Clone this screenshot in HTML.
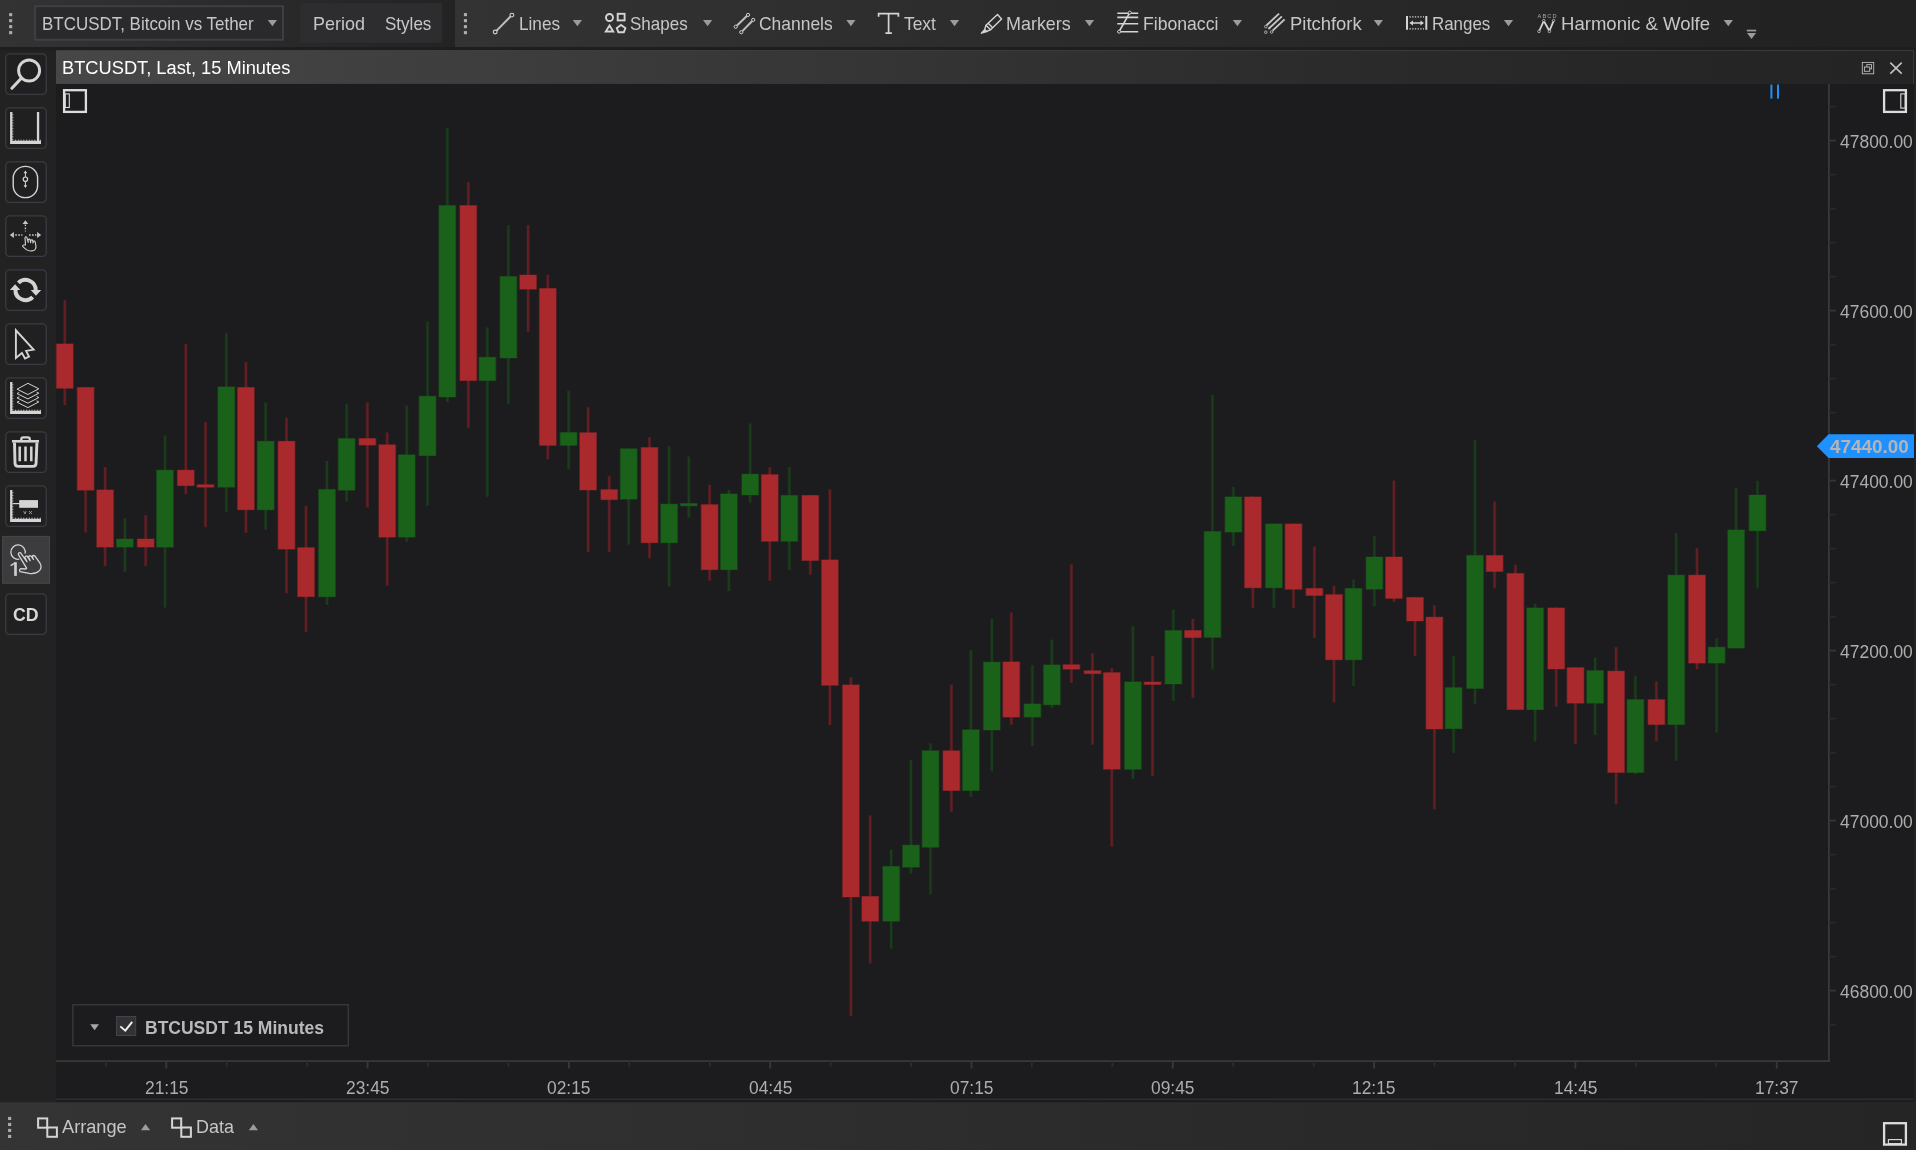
<!DOCTYPE html>
<html><head><meta charset="utf-8"><title>BTCUSDT</title>
<style>
html,body{margin:0;padding:0;background:#222223;}
body{width:1916px;height:1150px;overflow:hidden;position:relative;background:#222223;font-family:"Liberation Sans",sans-serif;}
.t{position:absolute;white-space:pre;font-family:"Liberation Sans",sans-serif;transform-origin:0 0;}
svg{overflow:visible}
</style></head><body>
<svg width="1916" height="1150" viewBox="0 0 1916 1150" style="position:absolute;left:0;top:0"><defs><linearGradient id="g1" x1="0" x2="1" y1="0" y2="0"><stop offset="0" stop-color="#333333"/><stop offset="0.55" stop-color="#2a2a2b"/><stop offset="1" stop-color="#232324"/></linearGradient><linearGradient id="g2" x1="0" x2="1" y1="0" y2="0"><stop offset="0" stop-color="#333333"/><stop offset="0.94" stop-color="#222223"/><stop offset="1" stop-color="#222223"/></linearGradient><linearGradient id="g3" x1="0" x2="1" y1="0" y2="0"><stop offset="0" stop-color="#474747"/><stop offset="0.31" stop-color="#3a3a3a"/><stop offset="0.66" stop-color="#2c2c2d"/><stop offset="0.85" stop-color="#262627"/><stop offset="1" stop-color="#242425"/></linearGradient><linearGradient id="g4" x1="0" x2="1" y1="0" y2="0"><stop offset="0" stop-color="#343434"/><stop offset="1" stop-color="#252526"/></linearGradient></defs><rect x="56" y="84" width="1857.8" height="1018.3" fill="#1c1c1e" /><rect x="0" y="0" width="455" height="47" fill="url(#g1)" /><rect x="455" y="0" width="1461" height="47" fill="url(#g2)" /><rect x="0" y="47" width="1916" height="3.1" fill="#1e1e1f" /><rect x="300.1" y="3.1" width="141.8" height="39.7" fill="#2d2d2f" /><rect x="35.15" y="6.25" width="247.80" height="33.50" fill="#2a2a2c" stroke="#3f3f47" stroke-width="1.9" rx="0"/><rect x="56" y="50.1" width="1857.8" height="33.8" fill="url(#g3)" /><rect x="56" y="50.1" width="1857.8" height="0.8" fill="#3e3e46" /><rect x="1913.0" y="50.1" width="0.8" height="33.8" fill="#3e3e46" /><rect x="56" y="1098.7" width="1857.8" height="0.9" fill="#3a3a42" /><rect x="0" y="1102.3" width="1916" height="47.7" fill="url(#g4)" /><rect x="5.78" y="53.83" width="40.45" height="40.45" fill="#202021" stroke="#3b3b43" stroke-width="1.25" rx="3.7"/><rect x="5.78" y="107.83" width="40.45" height="40.45" fill="#202021" stroke="#3b3b43" stroke-width="1.25" rx="3.7"/><rect x="5.78" y="161.82" width="40.45" height="40.45" fill="#202021" stroke="#3b3b43" stroke-width="1.25" rx="3.7"/><rect x="5.78" y="215.82" width="40.45" height="40.45" fill="#202021" stroke="#3b3b43" stroke-width="1.25" rx="3.7"/><rect x="5.78" y="269.82" width="40.45" height="40.45" fill="#202021" stroke="#3b3b43" stroke-width="1.25" rx="3.7"/><rect x="5.78" y="323.82" width="40.45" height="40.45" fill="#202021" stroke="#3b3b43" stroke-width="1.25" rx="3.7"/><rect x="5.78" y="377.82" width="40.45" height="40.45" fill="#202021" stroke="#3b3b43" stroke-width="1.25" rx="3.7"/><rect x="5.78" y="431.82" width="40.45" height="40.45" fill="#202021" stroke="#3b3b43" stroke-width="1.25" rx="3.7"/><rect x="5.78" y="485.82" width="40.45" height="40.45" fill="#202021" stroke="#3b3b43" stroke-width="1.25" rx="3.7"/><rect x="2.60" y="536.40" width="46.90" height="46.90" fill="#3c3c3e" stroke="#464649" stroke-width="1.0" rx="0"/><rect x="5.78" y="593.83" width="40.45" height="40.45" fill="#202021" stroke="#3b3b43" stroke-width="1.25" rx="3.7"/><rect x="72.85" y="1004.75" width="275.40" height="41.00" fill="none" stroke="#3a3a3b" stroke-width="1.3" rx="0"/><rect x="116.45" y="1016.45" width="19.30" height="19.00" fill="#323236" stroke="#48484e" stroke-width="0.9" rx="0"/></svg>
<svg width="1916" height="1150" viewBox="0 0 1916 1150" style="position:absolute;left:0;top:0" shape-rendering="auto"><rect x="63.10" y="300.1" width="3.40" height="105.2" fill="#621f23" opacity="0.4"/><rect x="63.70" y="300.4" width="2.2" height="104.6" fill="#621f23"/><rect x="83.90" y="386.7" width="3.40" height="145.9" fill="#621f23" opacity="0.4"/><rect x="84.50" y="387.0" width="2.2" height="145.3" fill="#621f23"/><rect x="103.40" y="466.9" width="3.40" height="99.3" fill="#621f23" opacity="0.4"/><rect x="104.00" y="467.2" width="2.2" height="98.7" fill="#621f23"/><rect x="123.20" y="518.0" width="3.40" height="53.9" fill="#193d1b" opacity="0.4"/><rect x="123.80" y="518.3" width="2.2" height="53.3" fill="#193d1b"/><rect x="144.00" y="515.0" width="3.40" height="51.2" fill="#621f23" opacity="0.4"/><rect x="144.60" y="515.3" width="2.2" height="50.6" fill="#621f23"/><rect x="163.30" y="435.3" width="3.40" height="172.5" fill="#193d1b" opacity="0.4"/><rect x="163.90" y="435.6" width="2.2" height="171.9" fill="#193d1b"/><rect x="184.10" y="343.9" width="3.40" height="150.4" fill="#621f23" opacity="0.4"/><rect x="184.70" y="344.2" width="2.2" height="149.8" fill="#621f23"/><rect x="203.80" y="421.8" width="3.40" height="105.5" fill="#621f23" opacity="0.4"/><rect x="204.40" y="422.1" width="2.2" height="104.9" fill="#621f23"/><rect x="224.60" y="333.2" width="3.40" height="178.6" fill="#193d1b" opacity="0.4"/><rect x="225.20" y="333.5" width="2.2" height="178.0" fill="#193d1b"/><rect x="244.20" y="362.0" width="3.40" height="171.1" fill="#621f23" opacity="0.4"/><rect x="244.80" y="362.3" width="2.2" height="170.5" fill="#621f23"/><rect x="264.00" y="402.2" width="3.40" height="127.9" fill="#193d1b" opacity="0.4"/><rect x="264.60" y="402.5" width="2.2" height="127.3" fill="#193d1b"/><rect x="284.80" y="417.3" width="3.40" height="175.9" fill="#621f23" opacity="0.4"/><rect x="285.40" y="417.6" width="2.2" height="175.3" fill="#621f23"/><rect x="304.30" y="505.7" width="3.40" height="126.4" fill="#621f23" opacity="0.4"/><rect x="304.90" y="506.0" width="2.2" height="125.8" fill="#621f23"/><rect x="325.30" y="460.6" width="3.40" height="144.4" fill="#193d1b" opacity="0.4"/><rect x="325.90" y="460.9" width="2.2" height="143.8" fill="#193d1b"/><rect x="344.90" y="403.7" width="3.40" height="98.1" fill="#193d1b" opacity="0.4"/><rect x="345.50" y="404.0" width="2.2" height="97.5" fill="#193d1b"/><rect x="365.70" y="402.2" width="3.40" height="105.4" fill="#621f23" opacity="0.4"/><rect x="366.30" y="402.5" width="2.2" height="104.8" fill="#621f23"/><rect x="385.50" y="432.3" width="3.40" height="153.4" fill="#621f23" opacity="0.4"/><rect x="386.10" y="432.6" width="2.2" height="152.8" fill="#621f23"/><rect x="405.00" y="405.3" width="3.40" height="136.6" fill="#193d1b" opacity="0.4"/><rect x="405.60" y="405.6" width="2.2" height="136.0" fill="#193d1b"/><rect x="425.80" y="321.4" width="3.40" height="184.7" fill="#193d1b" opacity="0.4"/><rect x="426.40" y="321.7" width="2.2" height="184.1" fill="#193d1b"/><rect x="445.60" y="127.7" width="3.40" height="274.6" fill="#193d1b" opacity="0.4"/><rect x="446.20" y="128.0" width="2.2" height="274.0" fill="#193d1b"/><rect x="466.60" y="181.9" width="3.40" height="246.0" fill="#621f23" opacity="0.4"/><rect x="467.20" y="182.2" width="2.2" height="245.4" fill="#621f23"/><rect x="485.70" y="327.2" width="3.40" height="169.8" fill="#193d1b" opacity="0.4"/><rect x="486.30" y="327.5" width="2.2" height="169.2" fill="#193d1b"/><rect x="506.70" y="225.0" width="3.40" height="179.1" fill="#193d1b" opacity="0.4"/><rect x="507.30" y="225.3" width="2.2" height="178.5" fill="#193d1b"/><rect x="526.40" y="225.0" width="3.40" height="106.8" fill="#621f23" opacity="0.4"/><rect x="527.00" y="225.3" width="2.2" height="106.2" fill="#621f23"/><rect x="546.10" y="274.7" width="3.40" height="184.7" fill="#621f23" opacity="0.4"/><rect x="546.70" y="275.0" width="2.2" height="184.1" fill="#621f23"/><rect x="566.90" y="390.5" width="3.40" height="79.0" fill="#193d1b" opacity="0.4"/><rect x="567.50" y="390.8" width="2.2" height="78.4" fill="#193d1b"/><rect x="586.40" y="407.0" width="3.40" height="145.3" fill="#621f23" opacity="0.4"/><rect x="587.00" y="407.3" width="2.2" height="144.7" fill="#621f23"/><rect x="607.50" y="475.9" width="3.40" height="76.4" fill="#621f23" opacity="0.4"/><rect x="608.10" y="476.2" width="2.2" height="75.8" fill="#621f23"/><rect x="627.00" y="448.1" width="3.40" height="96.6" fill="#193d1b" opacity="0.4"/><rect x="627.60" y="448.4" width="2.2" height="96.0" fill="#193d1b"/><rect x="647.80" y="437.1" width="3.40" height="121.2" fill="#621f23" opacity="0.4"/><rect x="648.40" y="437.4" width="2.2" height="120.6" fill="#621f23"/><rect x="667.40" y="445.8" width="3.40" height="140.8" fill="#193d1b" opacity="0.4"/><rect x="668.00" y="446.1" width="2.2" height="140.2" fill="#193d1b"/><rect x="687.10" y="456.3" width="3.40" height="61.5" fill="#193d1b" opacity="0.4"/><rect x="687.70" y="456.6" width="2.2" height="60.9" fill="#193d1b"/><rect x="707.90" y="484.7" width="3.40" height="96.2" fill="#621f23" opacity="0.4"/><rect x="708.50" y="485.0" width="2.2" height="95.6" fill="#621f23"/><rect x="727.20" y="489.7" width="3.40" height="101.5" fill="#193d1b" opacity="0.4"/><rect x="727.80" y="490.0" width="2.2" height="100.9" fill="#193d1b"/><rect x="748.50" y="423.3" width="3.40" height="79.5" fill="#193d1b" opacity="0.4"/><rect x="749.10" y="423.6" width="2.2" height="78.9" fill="#193d1b"/><rect x="768.10" y="466.9" width="3.40" height="114.0" fill="#621f23" opacity="0.4"/><rect x="768.70" y="467.2" width="2.2" height="113.4" fill="#621f23"/><rect x="787.60" y="466.9" width="3.40" height="103.4" fill="#193d1b" opacity="0.4"/><rect x="788.20" y="467.2" width="2.2" height="102.8" fill="#193d1b"/><rect x="808.60" y="494.7" width="3.40" height="80.2" fill="#621f23" opacity="0.4"/><rect x="809.20" y="495.0" width="2.2" height="79.6" fill="#621f23"/><rect x="828.20" y="489.2" width="3.40" height="236.0" fill="#621f23" opacity="0.4"/><rect x="828.80" y="489.5" width="2.2" height="235.4" fill="#621f23"/><rect x="849.20" y="677.0" width="3.40" height="339.3" fill="#621f23" opacity="0.4"/><rect x="849.80" y="677.3" width="2.2" height="338.7" fill="#621f23"/><rect x="868.50" y="815.3" width="3.40" height="148.4" fill="#621f23" opacity="0.4"/><rect x="869.10" y="815.6" width="2.2" height="147.8" fill="#621f23"/><rect x="889.50" y="849.4" width="3.40" height="99.3" fill="#193d1b" opacity="0.4"/><rect x="890.10" y="849.7" width="2.2" height="98.7" fill="#193d1b"/><rect x="909.30" y="759.7" width="3.40" height="113.8" fill="#193d1b" opacity="0.4"/><rect x="909.90" y="760.0" width="2.2" height="113.2" fill="#193d1b"/><rect x="928.80" y="743.1" width="3.40" height="151.7" fill="#193d1b" opacity="0.4"/><rect x="929.40" y="743.4" width="2.2" height="151.1" fill="#193d1b"/><rect x="949.70" y="684.5" width="3.40" height="127.6" fill="#621f23" opacity="0.4"/><rect x="950.30" y="684.8" width="2.2" height="127.0" fill="#621f23"/><rect x="969.20" y="649.9" width="3.40" height="147.2" fill="#193d1b" opacity="0.4"/><rect x="969.80" y="650.2" width="2.2" height="146.6" fill="#193d1b"/><rect x="990.10" y="618.6" width="3.40" height="152.9" fill="#193d1b" opacity="0.4"/><rect x="990.70" y="618.9" width="2.2" height="152.3" fill="#193d1b"/><rect x="1009.60" y="612.3" width="3.40" height="112.6" fill="#621f23" opacity="0.4"/><rect x="1010.20" y="612.6" width="2.2" height="112.0" fill="#621f23"/><rect x="1030.70" y="664.9" width="3.40" height="81.3" fill="#193d1b" opacity="0.4"/><rect x="1031.30" y="665.2" width="2.2" height="80.7" fill="#193d1b"/><rect x="1050.20" y="639.4" width="3.40" height="68.7" fill="#193d1b" opacity="0.4"/><rect x="1050.80" y="639.7" width="2.2" height="68.1" fill="#193d1b"/><rect x="1069.70" y="564.2" width="3.40" height="118.8" fill="#621f23" opacity="0.4"/><rect x="1070.30" y="564.5" width="2.2" height="118.2" fill="#621f23"/><rect x="1090.80" y="652.9" width="3.40" height="92.0" fill="#621f23" opacity="0.4"/><rect x="1091.40" y="653.2" width="2.2" height="91.4" fill="#621f23"/><rect x="1110.10" y="667.9" width="3.40" height="178.7" fill="#621f23" opacity="0.4"/><rect x="1110.70" y="668.2" width="2.2" height="178.1" fill="#621f23"/><rect x="1131.20" y="626.1" width="3.40" height="152.9" fill="#193d1b" opacity="0.4"/><rect x="1131.80" y="626.4" width="2.2" height="152.3" fill="#193d1b"/><rect x="1150.80" y="655.6" width="3.40" height="120.6" fill="#621f23" opacity="0.4"/><rect x="1151.40" y="655.9" width="2.2" height="120.0" fill="#621f23"/><rect x="1171.70" y="609.3" width="3.40" height="91.8" fill="#193d1b" opacity="0.4"/><rect x="1172.30" y="609.6" width="2.2" height="91.2" fill="#193d1b"/><rect x="1191.20" y="618.6" width="3.40" height="79.5" fill="#621f23" opacity="0.4"/><rect x="1191.80" y="618.9" width="2.2" height="78.9" fill="#621f23"/><rect x="1210.80" y="394.7" width="3.40" height="275.1" fill="#193d1b" opacity="0.4"/><rect x="1211.40" y="395.0" width="2.2" height="274.5" fill="#193d1b"/><rect x="1231.70" y="486.7" width="3.40" height="59.7" fill="#193d1b" opacity="0.4"/><rect x="1232.30" y="487.0" width="2.2" height="59.1" fill="#193d1b"/><rect x="1251.20" y="496.2" width="3.40" height="111.9" fill="#621f23" opacity="0.4"/><rect x="1251.80" y="496.5" width="2.2" height="111.3" fill="#621f23"/><rect x="1272.20" y="523.2" width="3.40" height="84.9" fill="#193d1b" opacity="0.4"/><rect x="1272.80" y="523.5" width="2.2" height="84.3" fill="#193d1b"/><rect x="1291.80" y="523.2" width="3.40" height="84.9" fill="#621f23" opacity="0.4"/><rect x="1292.40" y="523.5" width="2.2" height="84.3" fill="#621f23"/><rect x="1312.70" y="546.3" width="3.40" height="91.8" fill="#621f23" opacity="0.4"/><rect x="1313.30" y="546.6" width="2.2" height="91.2" fill="#621f23"/><rect x="1332.30" y="585.5" width="3.40" height="117.1" fill="#621f23" opacity="0.4"/><rect x="1332.90" y="585.8" width="2.2" height="116.5" fill="#621f23"/><rect x="1351.80" y="579.3" width="3.40" height="106.8" fill="#193d1b" opacity="0.4"/><rect x="1352.40" y="579.6" width="2.2" height="106.2" fill="#193d1b"/><rect x="1372.70" y="536.0" width="3.40" height="70.3" fill="#193d1b" opacity="0.4"/><rect x="1373.30" y="536.3" width="2.2" height="69.7" fill="#193d1b"/><rect x="1392.20" y="480.4" width="3.40" height="121.4" fill="#621f23" opacity="0.4"/><rect x="1392.80" y="480.7" width="2.2" height="120.8" fill="#621f23"/><rect x="1413.30" y="596.7" width="3.40" height="59.4" fill="#621f23" opacity="0.4"/><rect x="1413.90" y="597.0" width="2.2" height="58.8" fill="#621f23"/><rect x="1432.70" y="605.0" width="3.40" height="204.5" fill="#621f23" opacity="0.4"/><rect x="1433.30" y="605.3" width="2.2" height="203.9" fill="#621f23"/><rect x="1451.90" y="656.1" width="3.40" height="97.1" fill="#193d1b" opacity="0.4"/><rect x="1452.50" y="656.4" width="2.2" height="96.5" fill="#193d1b"/><rect x="1473.30" y="439.7" width="3.40" height="264.2" fill="#193d1b" opacity="0.4"/><rect x="1473.90" y="440.0" width="2.2" height="263.6" fill="#193d1b"/><rect x="1492.90" y="501.4" width="3.40" height="86.9" fill="#621f23" opacity="0.4"/><rect x="1493.50" y="501.7" width="2.2" height="86.3" fill="#621f23"/><rect x="1513.70" y="564.7" width="3.40" height="145.2" fill="#621f23" opacity="0.4"/><rect x="1514.30" y="565.0" width="2.2" height="144.6" fill="#621f23"/><rect x="1533.40" y="603.5" width="3.40" height="138.0" fill="#193d1b" opacity="0.4"/><rect x="1534.00" y="603.8" width="2.2" height="137.4" fill="#193d1b"/><rect x="1554.50" y="607.2" width="3.40" height="99.7" fill="#621f23" opacity="0.4"/><rect x="1555.10" y="607.5" width="2.2" height="99.1" fill="#621f23"/><rect x="1573.80" y="667.0" width="3.40" height="77.5" fill="#621f23" opacity="0.4"/><rect x="1574.40" y="667.3" width="2.2" height="76.9" fill="#621f23"/><rect x="1593.40" y="657.4" width="3.40" height="77.8" fill="#193d1b" opacity="0.4"/><rect x="1594.00" y="657.7" width="2.2" height="77.2" fill="#193d1b"/><rect x="1614.40" y="647.0" width="3.40" height="157.6" fill="#621f23" opacity="0.4"/><rect x="1615.00" y="647.3" width="2.2" height="157.0" fill="#621f23"/><rect x="1633.70" y="675.5" width="3.40" height="99.0" fill="#193d1b" opacity="0.4"/><rect x="1634.30" y="675.8" width="2.2" height="98.4" fill="#193d1b"/><rect x="1654.70" y="681.2" width="3.40" height="60.3" fill="#621f23" opacity="0.4"/><rect x="1655.30" y="681.5" width="2.2" height="59.7" fill="#621f23"/><rect x="1674.50" y="532.9" width="3.40" height="228.3" fill="#193d1b" opacity="0.4"/><rect x="1675.10" y="533.2" width="2.2" height="227.7" fill="#193d1b"/><rect x="1695.30" y="548.0" width="3.40" height="121.4" fill="#621f23" opacity="0.4"/><rect x="1695.90" y="548.3" width="2.2" height="120.8" fill="#621f23"/><rect x="1714.90" y="638.1" width="3.40" height="94.6" fill="#193d1b" opacity="0.4"/><rect x="1715.50" y="638.4" width="2.2" height="94.0" fill="#193d1b"/><rect x="1734.40" y="487.8" width="3.40" height="160.6" fill="#193d1b" opacity="0.4"/><rect x="1735.00" y="488.1" width="2.2" height="160.0" fill="#193d1b"/><rect x="1755.80" y="480.6" width="3.40" height="107.9" fill="#193d1b" opacity="0.4"/><rect x="1756.40" y="480.9" width="2.2" height="107.3" fill="#193d1b"/><rect x="55.80" y="343.4" width="18.00" height="45.4" fill="#aa292c" opacity="0.4"/><rect x="56.55" y="343.9" width="16.5" height="44.4" fill="#aa292c"/><rect x="76.60" y="386.9" width="18.00" height="103.8" fill="#aa292c" opacity="0.4"/><rect x="77.35" y="387.4" width="16.5" height="102.8" fill="#aa292c"/><rect x="96.10" y="489.4" width="18.00" height="58.2" fill="#aa292c" opacity="0.4"/><rect x="96.85" y="489.9" width="16.5" height="57.2" fill="#aa292c"/><rect x="115.90" y="538.5" width="18.00" height="9.1" fill="#1a611a" opacity="0.4"/><rect x="116.65" y="539.0" width="16.5" height="8.1" fill="#1a611a"/><rect x="136.70" y="538.5" width="18.00" height="9.1" fill="#aa292c" opacity="0.4"/><rect x="137.45" y="539.0" width="16.5" height="8.1" fill="#aa292c"/><rect x="156.00" y="469.6" width="18.00" height="78.1" fill="#1a611a" opacity="0.4"/><rect x="156.75" y="470.1" width="16.5" height="77.1" fill="#1a611a"/><rect x="176.80" y="469.6" width="18.00" height="16.6" fill="#aa292c" opacity="0.4"/><rect x="177.55" y="470.1" width="16.5" height="15.6" fill="#aa292c"/><rect x="196.50" y="484.2" width="18.00" height="3.5" fill="#aa292c" opacity="0.4"/><rect x="197.25" y="484.7" width="16.5" height="2.5" fill="#aa292c"/><rect x="217.30" y="386.4" width="18.00" height="101.3" fill="#1a611a" opacity="0.4"/><rect x="218.05" y="386.9" width="16.5" height="100.3" fill="#1a611a"/><rect x="236.90" y="386.9" width="18.00" height="123.4" fill="#aa292c" opacity="0.4"/><rect x="237.65" y="387.4" width="16.5" height="122.4" fill="#aa292c"/><rect x="256.70" y="440.8" width="18.00" height="69.6" fill="#1a611a" opacity="0.4"/><rect x="257.45" y="441.2" width="16.5" height="68.6" fill="#1a611a"/><rect x="277.50" y="440.8" width="18.00" height="108.9" fill="#aa292c" opacity="0.4"/><rect x="278.25" y="441.2" width="16.5" height="107.9" fill="#aa292c"/><rect x="297.00" y="547.1" width="18.00" height="50.1" fill="#aa292c" opacity="0.4"/><rect x="297.75" y="547.6" width="16.5" height="49.1" fill="#aa292c"/><rect x="318.00" y="488.9" width="18.00" height="108.4" fill="#1a611a" opacity="0.4"/><rect x="318.75" y="489.4" width="16.5" height="107.4" fill="#1a611a"/><rect x="337.60" y="438.0" width="18.00" height="52.7" fill="#1a611a" opacity="0.4"/><rect x="338.35" y="438.5" width="16.5" height="51.7" fill="#1a611a"/><rect x="358.40" y="438.0" width="18.00" height="7.6" fill="#aa292c" opacity="0.4"/><rect x="359.15" y="438.5" width="16.5" height="6.6" fill="#aa292c"/><rect x="378.20" y="444.2" width="18.00" height="93.4" fill="#aa292c" opacity="0.4"/><rect x="378.95" y="444.8" width="16.5" height="92.4" fill="#aa292c"/><rect x="397.70" y="454.2" width="18.00" height="83.4" fill="#1a611a" opacity="0.4"/><rect x="398.45" y="454.8" width="16.5" height="82.4" fill="#1a611a"/><rect x="418.50" y="395.7" width="18.00" height="60.5" fill="#1a611a" opacity="0.4"/><rect x="419.25" y="396.2" width="16.5" height="59.5" fill="#1a611a"/><rect x="438.30" y="205.0" width="18.00" height="192.5" fill="#1a611a" opacity="0.4"/><rect x="439.05" y="205.5" width="16.5" height="191.5" fill="#1a611a"/><rect x="459.30" y="205.0" width="18.00" height="176.1" fill="#aa292c" opacity="0.4"/><rect x="460.05" y="205.5" width="16.5" height="175.1" fill="#aa292c"/><rect x="478.40" y="356.7" width="18.00" height="24.4" fill="#1a611a" opacity="0.4"/><rect x="479.15" y="357.2" width="16.5" height="23.4" fill="#1a611a"/><rect x="499.40" y="276.0" width="18.00" height="82.5" fill="#1a611a" opacity="0.4"/><rect x="500.15" y="276.5" width="16.5" height="81.5" fill="#1a611a"/><rect x="519.10" y="274.5" width="18.00" height="15.2" fill="#aa292c" opacity="0.4"/><rect x="519.85" y="275.0" width="16.5" height="14.2" fill="#aa292c"/><rect x="538.80" y="287.9" width="18.00" height="158.0" fill="#aa292c" opacity="0.4"/><rect x="539.55" y="288.4" width="16.5" height="157.0" fill="#aa292c"/><rect x="559.60" y="432.0" width="18.00" height="13.9" fill="#1a611a" opacity="0.4"/><rect x="560.35" y="432.5" width="16.5" height="12.9" fill="#1a611a"/><rect x="579.10" y="432.2" width="18.00" height="58.3" fill="#aa292c" opacity="0.4"/><rect x="579.85" y="432.7" width="16.5" height="57.3" fill="#aa292c"/><rect x="600.20" y="489.1" width="18.00" height="11.1" fill="#aa292c" opacity="0.4"/><rect x="600.95" y="489.6" width="16.5" height="10.1" fill="#aa292c"/><rect x="619.70" y="448.2" width="18.00" height="51.4" fill="#1a611a" opacity="0.4"/><rect x="620.45" y="448.8" width="16.5" height="50.4" fill="#1a611a"/><rect x="640.50" y="447.0" width="18.00" height="96.3" fill="#aa292c" opacity="0.4"/><rect x="641.25" y="447.5" width="16.5" height="95.3" fill="#aa292c"/><rect x="660.10" y="503.6" width="18.00" height="39.7" fill="#1a611a" opacity="0.4"/><rect x="660.85" y="504.1" width="16.5" height="38.7" fill="#1a611a"/><rect x="679.80" y="503.0" width="18.00" height="3.4" fill="#1a611a" opacity="0.4"/><rect x="680.55" y="503.5" width="16.5" height="2.4" fill="#1a611a"/><rect x="700.60" y="504.1" width="18.00" height="66.1" fill="#aa292c" opacity="0.4"/><rect x="701.35" y="504.6" width="16.5" height="65.1" fill="#aa292c"/><rect x="719.90" y="493.4" width="18.00" height="76.8" fill="#1a611a" opacity="0.4"/><rect x="720.65" y="493.9" width="16.5" height="75.8" fill="#1a611a"/><rect x="741.20" y="473.6" width="18.00" height="21.9" fill="#1a611a" opacity="0.4"/><rect x="741.95" y="474.1" width="16.5" height="20.9" fill="#1a611a"/><rect x="760.80" y="474.1" width="18.00" height="67.7" fill="#aa292c" opacity="0.4"/><rect x="761.55" y="474.6" width="16.5" height="66.7" fill="#aa292c"/><rect x="780.30" y="494.9" width="18.00" height="46.9" fill="#1a611a" opacity="0.4"/><rect x="781.05" y="495.4" width="16.5" height="45.9" fill="#1a611a"/><rect x="801.30" y="494.9" width="18.00" height="66.1" fill="#aa292c" opacity="0.4"/><rect x="802.05" y="495.4" width="16.5" height="65.1" fill="#aa292c"/><rect x="820.90" y="559.4" width="18.00" height="126.4" fill="#aa292c" opacity="0.4"/><rect x="821.65" y="559.9" width="16.5" height="125.4" fill="#aa292c"/><rect x="841.90" y="684.4" width="18.00" height="213.1" fill="#aa292c" opacity="0.4"/><rect x="842.65" y="684.9" width="16.5" height="212.1" fill="#aa292c"/><rect x="861.20" y="895.9" width="18.00" height="25.8" fill="#aa292c" opacity="0.4"/><rect x="861.95" y="896.4" width="16.5" height="24.8" fill="#aa292c"/><rect x="882.20" y="865.9" width="18.00" height="55.8" fill="#1a611a" opacity="0.4"/><rect x="882.95" y="866.4" width="16.5" height="54.8" fill="#1a611a"/><rect x="902.00" y="844.6" width="18.00" height="23.1" fill="#1a611a" opacity="0.4"/><rect x="902.75" y="845.1" width="16.5" height="22.1" fill="#1a611a"/><rect x="921.50" y="750.2" width="18.00" height="97.5" fill="#1a611a" opacity="0.4"/><rect x="922.25" y="750.8" width="16.5" height="96.5" fill="#1a611a"/><rect x="942.40" y="750.2" width="18.00" height="40.8" fill="#aa292c" opacity="0.4"/><rect x="943.15" y="750.8" width="16.5" height="39.8" fill="#aa292c"/><rect x="961.90" y="729.2" width="18.00" height="61.8" fill="#1a611a" opacity="0.4"/><rect x="962.65" y="729.8" width="16.5" height="60.8" fill="#1a611a"/><rect x="982.80" y="661.6" width="18.00" height="68.9" fill="#1a611a" opacity="0.4"/><rect x="983.55" y="662.1" width="16.5" height="67.9" fill="#1a611a"/><rect x="1002.30" y="661.4" width="18.00" height="56.2" fill="#aa292c" opacity="0.4"/><rect x="1003.05" y="661.9" width="16.5" height="55.2" fill="#aa292c"/><rect x="1023.40" y="703.4" width="18.00" height="14.2" fill="#1a611a" opacity="0.4"/><rect x="1024.15" y="703.9" width="16.5" height="13.2" fill="#1a611a"/><rect x="1042.90" y="664.4" width="18.00" height="40.9" fill="#1a611a" opacity="0.4"/><rect x="1043.65" y="664.9" width="16.5" height="39.9" fill="#1a611a"/><rect x="1062.40" y="664.2" width="18.00" height="5.5" fill="#aa292c" opacity="0.4"/><rect x="1063.15" y="664.7" width="16.5" height="4.5" fill="#aa292c"/><rect x="1083.50" y="670.2" width="18.00" height="4.0" fill="#aa292c" opacity="0.4"/><rect x="1084.25" y="670.7" width="16.5" height="3.0" fill="#aa292c"/><rect x="1102.80" y="672.1" width="18.00" height="97.6" fill="#aa292c" opacity="0.4"/><rect x="1103.55" y="672.6" width="16.5" height="96.6" fill="#aa292c"/><rect x="1123.90" y="681.4" width="18.00" height="88.4" fill="#1a611a" opacity="0.4"/><rect x="1124.65" y="681.9" width="16.5" height="87.4" fill="#1a611a"/><rect x="1143.50" y="681.5" width="18.00" height="3.5" fill="#aa292c" opacity="0.4"/><rect x="1144.25" y="682.0" width="16.5" height="2.5" fill="#aa292c"/><rect x="1164.40" y="630.0" width="18.00" height="54.5" fill="#1a611a" opacity="0.4"/><rect x="1165.15" y="630.5" width="16.5" height="53.5" fill="#1a611a"/><rect x="1183.90" y="630.0" width="18.00" height="8.1" fill="#aa292c" opacity="0.4"/><rect x="1184.65" y="630.5" width="16.5" height="7.1" fill="#aa292c"/><rect x="1203.50" y="531.0" width="18.00" height="106.9" fill="#1a611a" opacity="0.4"/><rect x="1204.25" y="531.5" width="16.5" height="105.9" fill="#1a611a"/><rect x="1224.40" y="496.4" width="18.00" height="36.2" fill="#1a611a" opacity="0.4"/><rect x="1225.15" y="496.9" width="16.5" height="35.2" fill="#1a611a"/><rect x="1243.90" y="496.4" width="18.00" height="91.9" fill="#aa292c" opacity="0.4"/><rect x="1244.65" y="496.9" width="16.5" height="90.9" fill="#aa292c"/><rect x="1264.90" y="523.4" width="18.00" height="64.9" fill="#1a611a" opacity="0.4"/><rect x="1265.65" y="523.9" width="16.5" height="63.9" fill="#1a611a"/><rect x="1284.50" y="523.4" width="18.00" height="66.4" fill="#aa292c" opacity="0.4"/><rect x="1285.25" y="523.9" width="16.5" height="65.4" fill="#aa292c"/><rect x="1305.40" y="587.9" width="18.00" height="8.1" fill="#aa292c" opacity="0.4"/><rect x="1306.15" y="588.4" width="16.5" height="7.1" fill="#aa292c"/><rect x="1325.00" y="594.1" width="18.00" height="66.2" fill="#aa292c" opacity="0.4"/><rect x="1325.75" y="594.6" width="16.5" height="65.2" fill="#aa292c"/><rect x="1344.50" y="587.9" width="18.00" height="72.4" fill="#1a611a" opacity="0.4"/><rect x="1345.25" y="588.4" width="16.5" height="71.4" fill="#1a611a"/><rect x="1365.40" y="556.5" width="18.00" height="33.2" fill="#1a611a" opacity="0.4"/><rect x="1366.15" y="557.0" width="16.5" height="32.2" fill="#1a611a"/><rect x="1384.90" y="556.5" width="18.00" height="42.4" fill="#aa292c" opacity="0.4"/><rect x="1385.65" y="557.0" width="16.5" height="41.4" fill="#aa292c"/><rect x="1406.00" y="596.9" width="18.00" height="24.6" fill="#aa292c" opacity="0.4"/><rect x="1406.75" y="597.4" width="16.5" height="23.6" fill="#aa292c"/><rect x="1425.40" y="616.6" width="18.00" height="112.9" fill="#aa292c" opacity="0.4"/><rect x="1426.15" y="617.1" width="16.5" height="111.9" fill="#aa292c"/><rect x="1444.60" y="687.1" width="18.00" height="42.1" fill="#1a611a" opacity="0.4"/><rect x="1445.35" y="687.6" width="16.5" height="41.1" fill="#1a611a"/><rect x="1466.00" y="554.9" width="18.00" height="134.1" fill="#1a611a" opacity="0.4"/><rect x="1466.75" y="555.4" width="16.5" height="133.1" fill="#1a611a"/><rect x="1485.60" y="554.9" width="18.00" height="17.1" fill="#aa292c" opacity="0.4"/><rect x="1486.35" y="555.4" width="16.5" height="16.1" fill="#aa292c"/><rect x="1506.40" y="572.9" width="18.00" height="137.2" fill="#aa292c" opacity="0.4"/><rect x="1507.15" y="573.4" width="16.5" height="136.2" fill="#aa292c"/><rect x="1526.10" y="607.4" width="18.00" height="102.8" fill="#1a611a" opacity="0.4"/><rect x="1526.85" y="607.9" width="16.5" height="101.8" fill="#1a611a"/><rect x="1547.20" y="607.4" width="18.00" height="62.1" fill="#aa292c" opacity="0.4"/><rect x="1547.95" y="607.9" width="16.5" height="61.1" fill="#aa292c"/><rect x="1566.50" y="667.1" width="18.00" height="36.6" fill="#aa292c" opacity="0.4"/><rect x="1567.25" y="667.6" width="16.5" height="35.6" fill="#aa292c"/><rect x="1586.10" y="670.1" width="18.00" height="33.6" fill="#1a611a" opacity="0.4"/><rect x="1586.85" y="670.6" width="16.5" height="32.6" fill="#1a611a"/><rect x="1607.10" y="670.6" width="18.00" height="102.4" fill="#aa292c" opacity="0.4"/><rect x="1607.85" y="671.1" width="16.5" height="101.4" fill="#aa292c"/><rect x="1626.40" y="699.1" width="18.00" height="73.9" fill="#1a611a" opacity="0.4"/><rect x="1627.15" y="699.6" width="16.5" height="72.9" fill="#1a611a"/><rect x="1647.40" y="699.1" width="18.00" height="26.0" fill="#aa292c" opacity="0.4"/><rect x="1648.15" y="699.6" width="16.5" height="25.0" fill="#aa292c"/><rect x="1667.20" y="574.6" width="18.00" height="150.5" fill="#1a611a" opacity="0.4"/><rect x="1667.95" y="575.1" width="16.5" height="149.5" fill="#1a611a"/><rect x="1688.00" y="574.6" width="18.00" height="89.0" fill="#aa292c" opacity="0.4"/><rect x="1688.75" y="575.1" width="16.5" height="88.0" fill="#aa292c"/><rect x="1707.60" y="646.6" width="18.00" height="17.0" fill="#1a611a" opacity="0.4"/><rect x="1708.35" y="647.1" width="16.5" height="16.0" fill="#1a611a"/><rect x="1727.10" y="529.4" width="18.00" height="119.2" fill="#1a611a" opacity="0.4"/><rect x="1727.85" y="529.9" width="16.5" height="118.2" fill="#1a611a"/><rect x="1748.50" y="494.5" width="18.00" height="36.8" fill="#1a611a" opacity="0.4"/><rect x="1749.25" y="495.0" width="16.5" height="35.8" fill="#1a611a"/><rect x="56" y="1060.2" width="1773.6" height="1.8" fill="#38383a"/><rect x="1828" y="84" width="1.8" height="978" fill="#38383a"/><rect x="165.4" y="1061" width="1.8" height="7.5" fill="#38383a"/><rect x="105.0" y="1061" width="1.8" height="6" fill="#2c2c2f"/><rect x="225.8" y="1061" width="1.8" height="6" fill="#2c2c2f"/><rect x="366.7" y="1061" width="1.8" height="7.5" fill="#38383a"/><rect x="306.3" y="1061" width="1.8" height="6" fill="#2c2c2f"/><rect x="427.1" y="1061" width="1.8" height="6" fill="#2c2c2f"/><rect x="568.0" y="1061" width="1.8" height="7.5" fill="#38383a"/><rect x="507.6" y="1061" width="1.8" height="6" fill="#2c2c2f"/><rect x="628.4" y="1061" width="1.8" height="6" fill="#2c2c2f"/><rect x="769.3" y="1061" width="1.8" height="7.5" fill="#38383a"/><rect x="708.9" y="1061" width="1.8" height="6" fill="#2c2c2f"/><rect x="829.7" y="1061" width="1.8" height="6" fill="#2c2c2f"/><rect x="970.6" y="1061" width="1.8" height="7.5" fill="#38383a"/><rect x="910.2" y="1061" width="1.8" height="6" fill="#2c2c2f"/><rect x="1031.0" y="1061" width="1.8" height="6" fill="#2c2c2f"/><rect x="1171.9" y="1061" width="1.8" height="7.5" fill="#38383a"/><rect x="1111.5" y="1061" width="1.8" height="6" fill="#2c2c2f"/><rect x="1232.3" y="1061" width="1.8" height="6" fill="#2c2c2f"/><rect x="1373.2" y="1061" width="1.8" height="7.5" fill="#38383a"/><rect x="1312.8" y="1061" width="1.8" height="6" fill="#2c2c2f"/><rect x="1433.6" y="1061" width="1.8" height="6" fill="#2c2c2f"/><rect x="1574.5" y="1061" width="1.8" height="7.5" fill="#38383a"/><rect x="1514.1" y="1061" width="1.8" height="6" fill="#2c2c2f"/><rect x="1634.9" y="1061" width="1.8" height="6" fill="#2c2c2f"/><rect x="1775.8" y="1061" width="1.8" height="7.5" fill="#38383a"/><rect x="1715.4" y="1061" width="1.8" height="6" fill="#2c2c2f"/><rect x="1829" y="105.7" width="6.5" height="1.8" fill="#2a2a2d"/><rect x="1829" y="139.7" width="6.9" height="1.8" fill="#33353a"/><rect x="1829" y="173.7" width="6.5" height="1.8" fill="#2a2a2d"/><rect x="1829" y="207.7" width="6.5" height="1.8" fill="#2a2a2d"/><rect x="1829" y="241.7" width="6.5" height="1.8" fill="#2a2a2d"/><rect x="1829" y="275.7" width="6.5" height="1.8" fill="#2a2a2d"/><rect x="1829" y="309.7" width="6.9" height="1.8" fill="#33353a"/><rect x="1829" y="343.7" width="6.5" height="1.8" fill="#2a2a2d"/><rect x="1829" y="377.7" width="6.5" height="1.8" fill="#2a2a2d"/><rect x="1829" y="411.7" width="6.5" height="1.8" fill="#2a2a2d"/><rect x="1829" y="445.7" width="6.5" height="1.8" fill="#2a2a2d"/><rect x="1829" y="479.7" width="6.9" height="1.8" fill="#33353a"/><rect x="1829" y="513.7" width="6.5" height="1.8" fill="#2a2a2d"/><rect x="1829" y="547.7" width="6.5" height="1.8" fill="#2a2a2d"/><rect x="1829" y="581.7" width="6.5" height="1.8" fill="#2a2a2d"/><rect x="1829" y="615.7" width="6.5" height="1.8" fill="#2a2a2d"/><rect x="1829" y="649.7" width="6.9" height="1.8" fill="#33353a"/><rect x="1829" y="683.7" width="6.5" height="1.8" fill="#2a2a2d"/><rect x="1829" y="717.7" width="6.5" height="1.8" fill="#2a2a2d"/><rect x="1829" y="751.7" width="6.5" height="1.8" fill="#2a2a2d"/><rect x="1829" y="785.7" width="6.5" height="1.8" fill="#2a2a2d"/><rect x="1829" y="819.7" width="6.9" height="1.8" fill="#33353a"/><rect x="1829" y="853.7" width="6.5" height="1.8" fill="#2a2a2d"/><rect x="1829" y="887.7" width="6.5" height="1.8" fill="#2a2a2d"/><rect x="1829" y="921.7" width="6.5" height="1.8" fill="#2a2a2d"/><rect x="1829" y="955.7" width="6.5" height="1.8" fill="#2a2a2d"/><rect x="1829" y="989.7" width="6.9" height="1.8" fill="#33353a"/><rect x="1829" y="1023.7" width="6.5" height="1.8" fill="#2a2a2d"/><path d="M1816.8 446.2 L1828.6 434.3 H1914 V458 H1828.6 Z" fill="#1e90ff"/><rect x="1770.4" y="84.6" width="2" height="14" fill="#1e8fff"/><rect x="1777" y="84.6" width="2" height="14" fill="#1e8fff"/></svg>
<div style="position:absolute;left:0;top:0;width:1916px;height:1150px;filter:grayscale(1)">
<span class="t" style="left:41.67px;top:14.56px;font-size:18.6px;line-height:18.6px;color:#c6c6c6;transform:scaleX(0.9119);">BTCUSDT, Bitcoin vs Tether</span>
<span class="t" style="left:313.01px;top:14.56px;font-size:18.6px;line-height:18.6px;color:#c6c6c6;transform:scaleX(0.9667);">Period</span>
<span class="t" style="left:385.46px;top:14.56px;font-size:18.6px;line-height:18.6px;color:#c6c6c6;transform:scaleX(0.9155);">Styles</span>
<span class="t" style="left:518.65px;top:14.56px;font-size:18.6px;line-height:18.6px;color:#c6c6c6;transform:scaleX(0.9241);">Lines</span>
<span class="t" style="left:630.06px;top:14.56px;font-size:18.6px;line-height:18.6px;color:#c6c6c6;transform:scaleX(0.9142);">Shapes</span>
<span class="t" style="left:759.24px;top:14.56px;font-size:18.6px;line-height:18.6px;color:#c6c6c6;transform:scaleX(0.9380);">Channels</span>
<span class="t" style="left:903.94px;top:14.56px;font-size:18.6px;line-height:18.6px;color:#c6c6c6;transform:scaleX(0.9356);">Text</span>
<span class="t" style="left:1006.41px;top:14.56px;font-size:18.6px;line-height:18.6px;color:#c6c6c6;transform:scaleX(0.9643);">Markers</span>
<span class="t" style="left:1142.73px;top:14.56px;font-size:18.6px;line-height:18.6px;color:#c6c6c6;transform:scaleX(0.9476);">Fibonacci</span>
<span class="t" style="left:1289.59px;top:14.56px;font-size:18.6px;line-height:18.6px;color:#c6c6c6;transform:scaleX(0.9913);">Pitchfork</span>
<span class="t" style="left:1431.77px;top:14.56px;font-size:18.6px;line-height:18.6px;color:#c6c6c6;transform:scaleX(0.9087);">Ranges</span>
<span class="t" style="left:1561.08px;top:14.56px;font-size:18.6px;line-height:18.6px;color:#c6c6c6;transform:scaleX(0.9973);">Harmonic &amp; Wolfe</span>
<span class="t" style="left:62.49px;top:58.69px;font-size:18.8px;line-height:18.8px;color:#ffffff;transform:scaleX(0.9725);">BTCUSDT, Last, 15 Minutes</span>
<span class="t" style="left:145.44px;top:1018.72px;font-size:18.4px;line-height:18.4px;color:#b9b9bd;transform:scaleX(0.9517);font-weight:bold;">BTCUSDT 15 Minutes</span>
<span class="t" style="left:61.70px;top:1118.46px;font-size:18.6px;line-height:18.6px;color:#c6c6c6;transform:scaleX(0.9777);">Arrange</span>
<span class="t" style="left:196.31px;top:1118.46px;font-size:18.6px;line-height:18.6px;color:#c6c6c6;transform:scaleX(0.9639);">Data</span>
<span class="t" style="left:144.94px;top:1078.94px;font-size:18.5px;line-height:18.5px;color:#adadaf;transform:scaleX(0.9399);">21:15</span>
<span class="t" style="left:346.19px;top:1078.94px;font-size:18.5px;line-height:18.5px;color:#adadaf;transform:scaleX(0.9399);">23:45</span>
<span class="t" style="left:547.44px;top:1078.94px;font-size:18.5px;line-height:18.5px;color:#adadaf;transform:scaleX(0.9399);">02:15</span>
<span class="t" style="left:748.69px;top:1078.94px;font-size:18.5px;line-height:18.5px;color:#adadaf;transform:scaleX(0.9399);">04:45</span>
<span class="t" style="left:949.94px;top:1078.94px;font-size:18.5px;line-height:18.5px;color:#adadaf;transform:scaleX(0.9399);">07:15</span>
<span class="t" style="left:1151.19px;top:1078.94px;font-size:18.5px;line-height:18.5px;color:#adadaf;transform:scaleX(0.9399);">09:45</span>
<span class="t" style="left:1352.44px;top:1078.94px;font-size:18.5px;line-height:18.5px;color:#adadaf;transform:scaleX(0.9399);">12:15</span>
<span class="t" style="left:1553.69px;top:1078.94px;font-size:18.5px;line-height:18.5px;color:#adadaf;transform:scaleX(0.9399);">14:45</span>
<span class="t" style="left:1754.94px;top:1078.94px;font-size:18.5px;line-height:18.5px;color:#adadaf;transform:scaleX(0.9399);">17:37</span>
<span class="t" style="left:1839.64px;top:133.24px;font-size:18.5px;line-height:18.5px;color:#adadaf;transform:scaleX(0.9437);">47800.00</span>
<span class="t" style="left:1839.64px;top:303.24px;font-size:18.5px;line-height:18.5px;color:#adadaf;transform:scaleX(0.9437);">47600.00</span>
<span class="t" style="left:1839.64px;top:473.24px;font-size:18.5px;line-height:18.5px;color:#adadaf;transform:scaleX(0.9437);">47400.00</span>
<span class="t" style="left:1839.64px;top:643.24px;font-size:18.5px;line-height:18.5px;color:#adadaf;transform:scaleX(0.9437);">47200.00</span>
<span class="t" style="left:1839.64px;top:813.24px;font-size:18.5px;line-height:18.5px;color:#adadaf;transform:scaleX(0.9437);">47000.00</span>
<span class="t" style="left:1839.64px;top:983.24px;font-size:18.5px;line-height:18.5px;color:#adadaf;transform:scaleX(0.9437);">46800.00</span>
<span class="t" style="left:1829.56px;top:438.24px;font-size:18.5px;line-height:18.5px;color:#b5b5b5;transform:scaleX(1.0222);font-weight:bold;">47440.00</span>
<span class="t" style="left:12.92px;top:605.89px;font-size:18.2px;line-height:18.2px;color:#d8d8d8;transform:scaleX(0.9759);font-weight:bold;">CD</span>
</div>
<svg width="1916" height="1150" viewBox="0 0 1916 1150" style="position:absolute;left:0;top:0;filter:grayscale(1)" fill="none">
<rect x="9.1" y="13.1" width="3.1" height="3.1" fill="#adadad"/>
<rect x="9.1" y="19.1" width="3.1" height="3.1" fill="#adadad"/>
<rect x="9.1" y="25.1" width="3.1" height="3.1" fill="#adadad"/>
<rect x="9.1" y="31.1" width="3.1" height="3.1" fill="#adadad"/>
<rect x="463.9" y="13.1" width="3.1" height="3.1" fill="#adadad"/>
<rect x="463.9" y="19.1" width="3.1" height="3.1" fill="#adadad"/>
<rect x="463.9" y="25.1" width="3.1" height="3.1" fill="#adadad"/>
<rect x="463.9" y="31.1" width="3.1" height="3.1" fill="#adadad"/>
<rect x="8.1" y="1116.9" width="3.1" height="3.1" fill="#adadad"/>
<rect x="8.1" y="1122.9" width="3.1" height="3.1" fill="#adadad"/>
<rect x="8.1" y="1128.9" width="3.1" height="3.1" fill="#adadad"/>
<rect x="8.1" y="1134.9" width="3.1" height="3.1" fill="#adadad"/>
<path d="M267.8 20.0H277.0L272.4 26.2Z" fill="#9c9c9c"/>
<path d="M572.8 20.0H582.0L577.4 26.2Z" fill="#9c9c9c"/>
<path d="M703.0 20.0H712.2L707.6 26.2Z" fill="#9c9c9c"/>
<path d="M846.3 20.0H855.5L850.9 26.2Z" fill="#9c9c9c"/>
<path d="M949.9 20.0H959.1L954.5 26.2Z" fill="#9c9c9c"/>
<path d="M1084.9 20.0H1094.1L1089.5 26.2Z" fill="#9c9c9c"/>
<path d="M1232.8 20.0H1242.0L1237.4 26.2Z" fill="#9c9c9c"/>
<path d="M1373.8 20.0H1383.0L1378.4 26.2Z" fill="#9c9c9c"/>
<path d="M1503.9 20.0H1513.1L1508.5 26.2Z" fill="#9c9c9c"/>
<path d="M1723.7 20.0H1732.9L1728.3 26.2Z" fill="#9c9c9c"/>
<path d="M140.9 1130.2H150.1L145.5 1124.0Z" fill="#9c9c9c"/>
<path d="M248.8 1130.2H258.0L253.4 1124.0Z" fill="#9c9c9c"/>
<path d="M90.2 1024.2H99.0L94.6 1030.2Z" fill="#a8a8a8"/>
<rect x="1746.8" y="29.7" width="9.4" height="1.7" fill="#9c9c9c"/>
<path d="M1747 32.9H1756L1751.5 39.1Z" fill="#9c9c9c"/>
<g stroke="#d4d4d4" stroke-width="1.1"><line x1="496.6" y1="30.6" x2="510.5" y2="16.5" stroke-width="2.0" stroke="#bebebe"/><circle cx="511.9" cy="15.1" r="1.9"/><circle cx="495.2" cy="32" r="1.9"/></g>
<g stroke="#d4d4d4" stroke-width="1.9"><circle cx="609.5" cy="17.5" r="3.5"/><rect x="617.7" y="13.8" width="6.9" height="6.6"/><path d="M609.5 25.6L613.2 31.5H605.8Z" stroke-linejoin="miter"/><path d="M621.1 24.9L625.4 28.1L623.8 32.3H618.4L616.8 28.1Z"/></g>
<g stroke="#d4d4d4" stroke-width="1.0"><line x1="737" y1="25.4" x2="746.8" y2="16.1" stroke-width="2.0" stroke="#bebebe"/><line x1="742.6" y1="30.9" x2="752" y2="21.2" stroke-width="2.0" stroke="#bebebe"/><circle cx="735.7" cy="26.7" r="1.6"/><circle cx="748" cy="14.9" r="1.6"/><circle cx="741.3" cy="32.2" r="1.6"/><circle cx="753.2" cy="19.9" r="1.6"/></g>
<path d="M878.6 16.8V13.6H898.4V16.8M888.6 13.6V33M885.4 33.1H891.9" stroke="#d4d4d4" stroke-width="1.7"/>
<g stroke="#d4d4d4" stroke-width="1.4" stroke-linejoin="round"><path d="M997.5 14.6L1001.6 19L990.6 29.7L986 25.3Z"/><path d="M988.2 23.2L992.7 27.7"/><path d="M986 25.3L984.6 29.6L986.6 31.5L990.6 29.7"/><path d="M984.6 29.8L986.5 31.6L981.4 33.2Z" fill="#d4d4d4"/></g>
<g stroke="#d4d4d4" stroke-width="1.6"><path d="M1117.3 13.2H1138.2M1117.3 17.4H1138.2M1117.3 23.8H1138.2M1117.3 31.7H1138.2"/><line x1="1119.4" y1="31" x2="1129.4" y2="13.4" stroke-width="1.6"/><circle cx="1119.1" cy="31.7" r="1.5" fill="#2a2a2b" stroke-width="0.9"/><circle cx="1129.8" cy="12.6" r="1.5" fill="#2a2a2b" stroke-width="0.9"/></g>
<g stroke="#c6c6c6" stroke-width="1.9"><path d="M1266.6 25.2L1279.1 13.6M1268.4 29L1281.9 16.4M1272.6 30.6L1284.6 19.4"/><circle cx="1265.8" cy="26.6" r="1.3" stroke-width="0.8"/><circle cx="1265.8" cy="32.2" r="1.3" stroke-width="0.8"/><circle cx="1271.6" cy="32.0" r="1.3" stroke-width="0.8"/></g>
<g stroke="#d4d4d4"><path d="M1407 16V29.7M1426.3 16V29.7" stroke-width="2"/><path d="M1409.5 16.9H1424M1409.5 28.9H1424" stroke-width="1.3" stroke-dasharray="1.3 1.4"/><path d="M1411 23H1422.5" stroke-width="1.5"/><path d="M1409.4 23L1413 20.6V25.4ZM1424 23L1420.4 20.6V25.4Z" fill="#d4d4d4" stroke="none"/></g>
<g stroke="#d4d4d4" stroke-width="1.8" stroke-linejoin="round"><path d="M1539.2 31L1543.8 20.9L1549.4 31L1553.6 20.9"/><circle cx="1539" cy="31.4" r="1.3" stroke-width="0.7" fill="#262627"/><circle cx="1549.4" cy="31.4" r="1.3" stroke-width="0.7" fill="#262627"/><circle cx="1543.8" cy="20.5" r="1.2" stroke-width="0.7" fill="#262627"/><circle cx="1553.6" cy="20.5" r="1.2" stroke-width="0.7" fill="#262627"/></g>
<text x="1537.6" y="18.2" font-family="Liberation Sans, sans-serif" font-size="5.6" fill="#a8a8a8" letter-spacing="1.15">ABCD</text>
<g stroke="#bdbdbd" stroke-width="0.9"><rect x="1862.3" y="62.4" width="11.4" height="11.4"/><rect x="1866.8" y="64.6" width="4.7" height="4.3"/><rect x="1864.4" y="67" width="5.3" height="4.3" fill="#262627"/></g>
<path d="M1890.3 62.6L1901.7 73.6M1901.7 62.6L1890.3 73.6" stroke="#c4c4c4" stroke-width="1.5"/>
<g stroke="#dcdcdc"><rect x="64.1" y="90.2" width="21.8" height="21.7" stroke-width="2.3"/><rect x="65.3" y="93.9" width="4" height="13.6" stroke-width="1.1"/><rect x="1884.1" y="90.2" width="21.8" height="21.7" stroke-width="2.3"/><rect x="1900.8" y="93.9" width="4.4" height="14.2" stroke-width="1.1"/><rect x="1884.1" y="1123.2" width="21.8" height="21.4" stroke-width="2.3"/><rect x="1888.4" y="1139.6" width="13" height="4" stroke-width="1.1"/></g>
<g stroke="#d4d4d4" stroke-width="2.0"><rect x="38.1" y="1118.4" width="9.1" height="9.3"/><rect x="47.3" y="1127.5" width="9.6" height="9.3"/><rect x="172.1" y="1118.4" width="9.1" height="9.3"/><rect x="181.3" y="1127.5" width="9.6" height="9.3"/></g>
<path d="M120.3 1026.4L125.3 1030.7L132.2 1021.9" stroke="#f0f0f0" stroke-width="1.9"/>
<g stroke="#d4d4d4" stroke-linecap="round"><circle cx="29.1" cy="70.5" r="10.5" stroke-width="2.9"/><line x1="21.3" y1="78.2" x2="11.9" y2="88.2" stroke-width="3.1"/></g>
<path d="M10.1 112H12.4V140.70000000000002H41V143.9H10.1Z" fill="#d4d4d4"/><path d="M12.4 114.2h0.9v1.1h-0.9ZM12.4 117.0h0.9v1.1h-0.9ZM12.4 119.7h0.9v1.1h-0.9ZM12.4 122.5h0.9v1.1h-0.9ZM12.4 125.2h0.9v1.1h-0.9ZM12.4 128.0h0.9v1.1h-0.9ZM12.4 130.7h0.9v1.1h-0.9ZM12.4 133.4h0.9v1.1h-0.9ZM12.4 136.2h0.9v1.1h-0.9ZM12.4 138.9h0.9v1.1h-0.9ZM15.0 140.7v-0.9h1.1v0.9ZM17.8 140.7v-0.9h1.1v0.9ZM20.5 140.7v-0.9h1.1v0.9ZM23.2 140.7v-0.9h1.1v0.9ZM26.0 140.7v-0.9h1.1v0.9ZM28.8 140.7v-0.9h1.1v0.9ZM31.5 140.7v-0.9h1.1v0.9ZM34.2 140.7v-0.9h1.1v0.9ZM37.0 140.7v-0.9h1.1v0.9ZM39.8 140.7v-0.9h1.1v0.9Z" fill="#d4d4d4"/>
<rect x="36.9" y="112" width="2.3" height="29" fill="#d4d4d4"/>
<g stroke="#d4d4d4"><rect x="13.2" y="166.4" width="24.4" height="31.2" rx="12.2" ry="11.8" stroke-width="1.4"/><circle cx="25.4" cy="179.2" r="2.2" stroke-width="1.2"/><path d="M25.4 177V172M25.4 181.4V186.6" stroke-width="1.0"/><path d="M25.4 170.6L27.2 173.3H23.6ZM25.4 188L27.2 185.3H23.6Z" fill="#d4d4d4" stroke="none"/></g>
<g stroke="#c4c4c4" stroke-width="1.3"><path d="M25.4 224.5V231.6" stroke-dasharray="1.6 1.5"/><path d="M15.2 235H22.4M29 235H36.4" stroke-dasharray="1.7 1.3" stroke-width="1.5"/><path d="M25.4 220.2L28.3 224H22.5ZM9.8 235L13.9 232.1V237.9ZM41.2 235L37.1 232.1V237.9Z" fill="#c4c4c4" stroke="none"/></g>
<path d="M25.5 244.9L25 237.6Q25.4 236 26.8 237.2L28.2 242.4L28.1 239.6Q29.2 238.5 30.2 239.8L30.6 242.6L30.8 240.2Q32 239.3 32.8 240.6L33 243L33.4 241.2Q34.6 240.6 35.2 242L36 246.4Q36.2 249.4 33.6 250.5Q29.6 251.8 26.4 249.6L22.8 246.6Q22.4 244.8 24.2 245Z" stroke="#d4d4d4" stroke-width="1.1" stroke-linejoin="round"/>
<g stroke="#d4d4d4" stroke-width="4.0"><path d="M18.41 282.86A10.1 10.1 0 0 1 35.65 290.3"/><path d="M32.69 297.14A10.1 10.1 0 0 1 15.45 289.7"/></g>
<path d="M30.7 290.1H41.2L35.95 295.8ZM9.9 289.9H20.3L15.1 284.2Z" fill="#d4d4d4"/>
<path d="M15.9 330.3V357.9L21.9 352.9L25 358.5L29 356.5L26.1 350.9L33.6 349.7Z" stroke="#d4d4d4" stroke-width="1.9" stroke-linejoin="miter"/>
<path d="M10.1 382H12.4V410.7H41V413.9H10.1Z" fill="#d4d4d4"/><path d="M12.4 384.2h0.9v1.1h-0.9ZM12.4 386.9h0.9v1.1h-0.9ZM12.4 389.7h0.9v1.1h-0.9ZM12.4 392.4h0.9v1.1h-0.9ZM12.4 395.2h0.9v1.1h-0.9ZM12.4 397.9h0.9v1.1h-0.9ZM12.4 400.7h0.9v1.1h-0.9ZM12.4 403.4h0.9v1.1h-0.9ZM12.4 406.2h0.9v1.1h-0.9ZM12.4 408.9h0.9v1.1h-0.9ZM15.0 410.7v-0.9h1.1v0.9ZM17.8 410.7v-0.9h1.1v0.9ZM20.5 410.7v-0.9h1.1v0.9ZM23.2 410.7v-0.9h1.1v0.9ZM26.0 410.7v-0.9h1.1v0.9ZM28.8 410.7v-0.9h1.1v0.9ZM31.5 410.7v-0.9h1.1v0.9ZM34.2 410.7v-0.9h1.1v0.9ZM37.0 410.7v-0.9h1.1v0.9ZM39.8 410.7v-0.9h1.1v0.9Z" fill="#d4d4d4"/>
<path d="M27.9 383.3L38.8 388.8L27.9 394.5L17 389.2ZM38.8 393.2L27.9 398.9L17 393.6M38.8 393.2L36.6 392.1M17 393.6L19.2 392.5M38.8 397.5L27.9 403.2L17 397.9M38.8 397.5L36.6 396.4M17 397.9L19.2 396.8M38.8 401.9L27.9 407.6L17 402.2M38.8 401.9L36.6 400.8M17 402.2L19.2 401.2" stroke="#d4d4d4" stroke-width="1.0" stroke-linejoin="round"/>
<g stroke="#d4d4d4"><path d="M12 441.3H39" stroke-width="2.6"/><path d="M21.3 440.6V439.4Q21.3 437.4 23.3 437.4H27.8Q29.8 437.4 29.8 439.4V440.6" stroke-width="2.3"/><path d="M14.5 442.5L15 463.2Q15.1 466.4 18.3 466.4H32.8Q36 466.4 36.1 463.2L36.9 442.5" stroke-width="2.9"/><path d="M19.7 446.4V461.2M25.5 446.4V461.2M31.3 446.4V461.2" stroke-width="2.5"/></g>
<path d="M10.1 490H12.4V518.6999999999999H41V521.9H10.1Z" fill="#d4d4d4"/><path d="M12.4 492.2h0.9v1.1h-0.9ZM12.4 494.9h0.9v1.1h-0.9ZM12.4 497.7h0.9v1.1h-0.9ZM12.4 500.4h0.9v1.1h-0.9ZM12.4 503.2h0.9v1.1h-0.9ZM12.4 505.9h0.9v1.1h-0.9ZM12.4 508.7h0.9v1.1h-0.9ZM12.4 511.4h0.9v1.1h-0.9ZM12.4 514.2h0.9v1.1h-0.9ZM12.4 517.0h0.9v1.1h-0.9ZM15.0 518.7v-0.9h1.1v0.9ZM17.8 518.7v-0.9h1.1v0.9ZM20.5 518.7v-0.9h1.1v0.9ZM23.2 518.7v-0.9h1.1v0.9ZM26.0 518.7v-0.9h1.1v0.9ZM28.8 518.7v-0.9h1.1v0.9ZM31.5 518.7v-0.9h1.1v0.9ZM34.2 518.7v-0.9h1.1v0.9ZM37.0 518.7v-0.9h1.1v0.9ZM39.8 518.7v-0.9h1.1v0.9Z" fill="#d4d4d4"/>
<rect x="19.2" y="500.1" width="18.8" height="7.7" fill="#d4d4d4"/><rect x="13" y="503" width="7" height="1.2" fill="#d4d4d4"/>
<path d="M23.7 511.2L24.9 513.9L26.1 511.2M29 511.1L32 514M32 511.1L29 514" stroke="#b0b0b0" stroke-width="0.8"/>
<path d="M25.09 553.6A7.2 7.2 0 1 0 19.3 559.19" stroke="#d4d4d4" stroke-width="1.3"/>
<path d="M26.6 568.2L18.4 554.6Q18.2 552.4 20.4 552.6L26.9 561.6L24.9 557.6Q25.2 555.6 27.2 556.2L30.1 560.6L28.5 557Q29.2 555.2 31 556L33.4 559.4L32.2 556.6Q33 555 34.8 555.8L40 563.2Q42.4 567.4 39.4 570.6Q35.4 574.4 29.2 573.4L20 571.6Q18.8 569.4 21 568.6L25.8 569Z" stroke="#d4d4d4" stroke-width="1.3" stroke-linejoin="round"/>
<path d="M15.5 575.9V562.2" stroke="#cdcdcd" stroke-width="2.7"/><path d="M15.6 562.6L10.7 565.6" stroke="#cdcdcd" stroke-width="1.7"/>
</svg>
</body></html>
